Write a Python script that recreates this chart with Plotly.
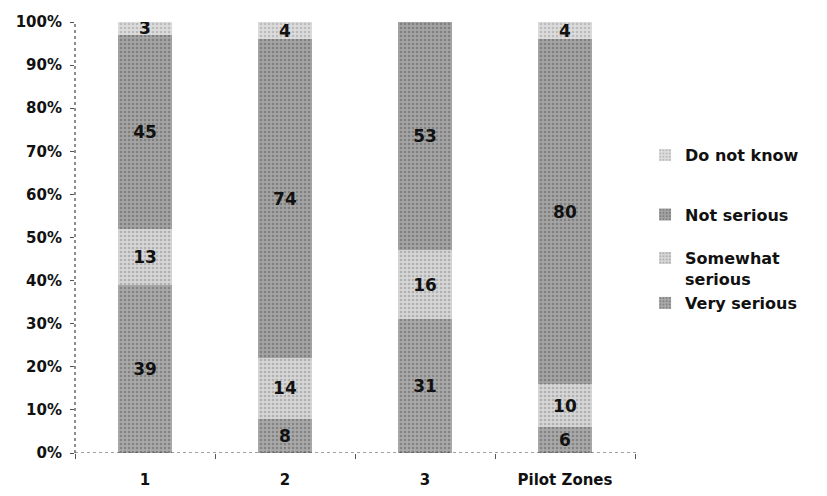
import plotly.graph_objects as go

# Survey shares (%) per zone, stacked to 100%
categories = ["1", "2", "3", "Pilot Zones"]
very_serious = [39, 8, 31, 6]
somewhat_serious = [13, 14, 16, 10]
not_serious = [45, 74, 53, 80]
do_not_know = [3, 4, 0, 4]

y_ticks = list(range(0, 101, 10))
y_tick_labels = [f"{v}%" for v in y_ticks]

FONT = "DejaVu Sans"

# (name, values, background grey, stipple grey, legend id)
series = [
    ("Very serious", very_serious, "#a9a9a9", "#5e5e5e", "legend4"),
    ("Somewhat<br>serious", somewhat_serious, "#d6d6d6", "#8a8a8a", "legend3"),
    ("Not serious", not_serious, "#a4a4a4", "#5a5a5a", "legend2"),
    ("Do not know", do_not_know, "#dcdcdc", "#999999", "legend5"),
]

fig = go.Figure()
for name, vals, bg, fg, leg in series:
    fig.add_trace(go.Bar(
        x=categories,
        y=vals,
        name=name,
        legend=leg,
        showlegend=True,
        width=0.39,
        text=[str(v) if v else "" for v in vals],
        textposition="inside",
        insidetextanchor="middle",
        textangle=0,
        constraintext="none",
        textfont=dict(family=FONT, size=17, color="#111111", weight="bold"),
        marker=dict(
            color=bg,
            line=dict(width=0),
            pattern=dict(shape=".", fgcolor=fg, bgcolor=bg, size=4,
                         solidity=0.35, fillmode="overlay"),
        ),
        hoverinfo="skip",
    ))

legend_font = dict(family=FONT, size=16, color="#111111", weight="bold")
legend_common = dict(font=legend_font, bgcolor="rgba(0,0,0,0)", xanchor="left",
                     yanchor="middle", x=1.018, itemclick=False, visible=True)

fig.update_layout(
    width=827,
    height=496,
    margin=dict(l=75, r=192, t=22, b=43),
    paper_bgcolor="white",
    plot_bgcolor="white",
    barmode="stack",
    showlegend=True,
    font=dict(family=FONT, size=15, color="#111111", weight="bold"),
    uniformtext=dict(minsize=17, mode="show"),
    legend5=dict(y=0.691, **legend_common),
    legend2=dict(y=0.553, **legend_common),
    legend3=dict(y=0.428, valign="top", **legend_common),
    legend4=dict(y=0.348, **legend_common),
    xaxis=dict(
        type="category",
        categoryorder="array",
        categoryarray=categories,
        automargin=False,
        showgrid=False,
        showline=False,
        zeroline=False,
        ticks="outside",
        tickson="boundaries",
        ticklen=5,
        tickcolor="#555555",
        ticklabelstandoff=16,
        tickfont=dict(family=FONT, size=15, weight="bold"),
    ),
    yaxis=dict(
        range=[0, 100],
        tickvals=y_ticks,
        ticktext=y_tick_labels,
        automargin=False,
        showgrid=False,
        showline=False,
        zeroline=False,
        ticks="outside",
        ticklen=4,
        tickcolor="#555555",
        ticklabelstandoff=5,
        tickfont=dict(family=FONT, size=15, weight="bold"),
    ),
    shapes=[
        # dotted axis lines
        dict(type="line", xref="paper", yref="y", x0=0, x1=1.005, y0=0, y1=0,
             line=dict(color="#444444", width=1.2, dash="dot")),
        dict(type="line", xref="paper", yref="y", x0=0, x1=0, y0=0, y1=100,
             line=dict(color="#444444", width=1.2, dash="dot")),
    ],
)

fig.write_html("out.html")
